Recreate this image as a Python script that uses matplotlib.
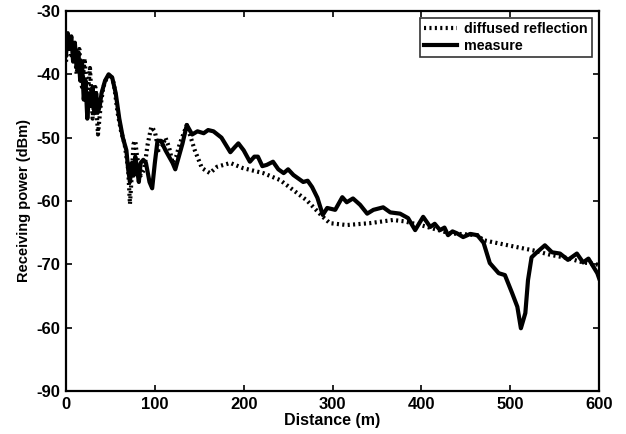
import matplotlib
matplotlib.use("Agg")
from matplotlib import pyplot as plt

plt.rcParams['font.family'] = ['Liberation Sans', 'DejaVu Sans']
plt.rcParams['font.weight'] = 'bold'

# diffused reflection (dotted)
diff_d = [0, 3, 6, 9, 12, 15, 18, 21, 24, 27, 30, 33, 36, 39, 42, 46, 50, 54, 58,
          62, 66, 70, 72, 74, 76, 78, 80, 84, 88, 92, 96, 100, 104, 108, 112, 116,
          120, 124, 128, 132, 136, 145, 153, 162, 170, 185, 199, 222, 241, 256,
          271, 289, 297, 316, 342, 368, 380, 399, 432, 463, 470, 508, 526, 545,
          564, 582, 593, 600]
diff_p = [-38, -34, -37, -35, -40, -36, -42, -37.5, -44, -39, -47, -42, -49.5, -45,
          -42, -40.5, -40, -41.5, -46, -49, -51, -55, -60.5, -56, -51, -50.5, -53,
          -56, -55, -51, -48.3, -49, -52, -51.5, -50, -51.5, -54, -53, -51, -49.5,
          -48, -52, -54.8, -55.6, -54.6, -54, -54.8, -55.6, -56.7, -58.3, -59.9,
          -62.5, -63.5, -63.8, -63.5, -63, -63.2, -63.8, -65.1, -65.4, -66.2,
          -67.3, -67.8, -68.5, -69, -69.7, -69.9, -70.1]

# measure (solid)
meas_d = [0, 2, 4, 6, 8, 10, 12, 14, 16, 18, 20, 22, 24, 26, 28, 30, 32, 34, 36,
          38, 40, 44, 48, 52, 56, 60, 64, 68, 70, 72, 74, 76, 78, 80, 82, 84, 87,
          90, 94, 97, 100, 103, 107, 112, 116, 120, 123, 127, 131, 136, 142, 148,
          155, 160, 166, 175, 185, 190, 194, 200, 207, 212, 216, 221, 226, 233,
          239, 245, 250, 256, 262, 267, 272, 277, 283, 289, 294, 303, 311, 316,
          323, 331, 339, 346, 357, 365, 376, 385, 393, 402, 410, 415, 421, 426,
          430, 435, 440, 447, 455, 463, 470, 477, 487, 494, 502, 508, 512, 517,
          520, 524, 530, 539, 547, 556, 565, 575, 582, 588, 598, 600]
meas_p = [-37, -33.5, -36, -34, -38, -35, -39, -36.5, -41, -38, -44, -41, -47, -43,
          -45, -42, -46, -43, -46, -45, -43, -41, -40, -40.5, -43, -47, -50, -52,
          -55, -57, -54, -56, -53, -55, -57, -54, -53.5, -54, -57, -58, -54,
          -50.5, -50.5, -52, -53, -54, -55, -53, -51, -48, -49.5, -49, -49.3,
          -48.8, -49, -50, -52.3, -51.5, -50.9, -52, -53.8, -53, -53, -54.5,
          -54.3, -53.8, -55, -55.6, -55, -55.9, -56.5, -57, -56.8, -57.8, -59.5,
          -62.2, -61.1, -61.4, -59.4, -60.2, -59.6, -60.6, -62, -61.4, -61, -61.8,
          -62, -62.7, -64.6, -62.5, -64.1, -63.6, -64.6, -64.2, -65.4, -64.8,
          -65.1, -65.7, -65.2, -65.4, -66.6, -69.8, -71.4, -71.7, -74.5, -76.7,
          -80.1, -77.7, -72.5, -68.9, -68.1, -67, -68.1, -68.3, -69.3, -68.3,
          -69.7, -69.1, -71.4, -72.2]

y_ticks = [-90, -80, -70, -60, -50, -40, -30]
y_tick_labels = ['-90', '-60', '-70', '-60', '-50', '-40', '-30']
x_ticks = [0, 100, 200, 300, 400, 500, 600]

fig = plt.figure(figsize=(6.26, 4.34), dpi=100)
ax = fig.add_axes([0.1054, 0.0991, 0.8516, 0.8756])

ax.plot(diff_d, diff_p, color='black', linestyle=(0, (0.5, 0.8)), linewidth=3.0,
        label='diffused reflection')
ax.plot(meas_d, meas_p, color='black', linestyle='-', linewidth=3.0,
        label='measure')

ax.set_xlim(0, 600)
ax.set_ylim(-90, -30)
ax.set_xticks(x_ticks)
ax.set_yticks(y_ticks)
ax.set_yticklabels(y_tick_labels)
ax.tick_params(direction='in', top=True, right=True, length=4, width=1.2,
               labelsize=12, pad=4)
for s in ax.spines.values():
    s.set_linewidth(1.6)

ax.set_xlabel('Distance (m)', fontsize=11.5, fontweight='bold', labelpad=1)
ax.set_ylabel('Receiving power (dBm)', fontsize=10.5, fontweight='bold', labelpad=4)

leg = ax.legend(loc='upper right', fontsize=10.3, frameon=True, fancybox=False,
                edgecolor='black', handlelength=2.3, handletextpad=0.5,
                borderpad=0.3, labelspacing=0.15, borderaxespad=0.5)
leg.get_frame().set_linewidth(1.2)

fig.savefig('out.png', dpi=100)
